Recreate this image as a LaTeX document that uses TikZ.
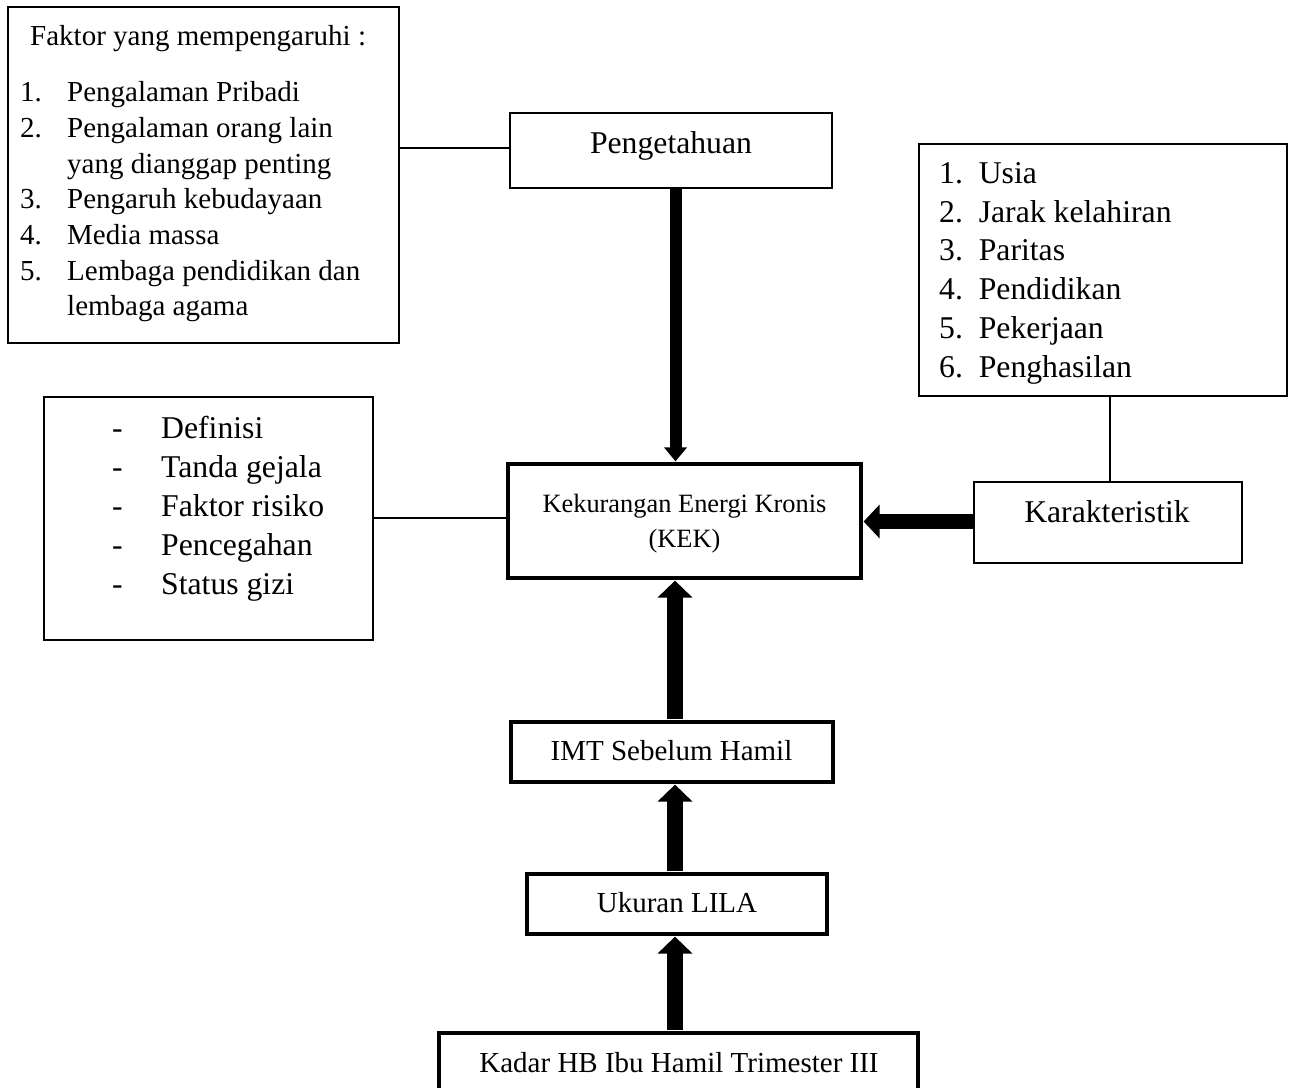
\documentclass[tikz,border=0pt]{standalone}
\usepackage{fontspec}
\setmainfont{Liberation Serif}
\usetikzlibrary{arrows.meta}
\tikzset{
  thinbox/.style={draw=black, line width=1.4pt, rectangle, inner sep=0pt},
  thickbox/.style={draw=black, line width=3.2pt, rectangle, inner sep=0pt},
  txt/.style={inner sep=0pt, anchor=base west},
  ctxt/.style={inner sep=0pt, anchor=base},
  fa/.style={font=\fontsize{29}{35}\selectfont},
  fb/.style={font=\fontsize{31.7}{38}\selectfont},
  fc/.style={font=\fontsize{26.4}{32}\selectfont},
  link/.style={draw=black, line width=1.3pt},
  bigarrow/.style={draw=black, line width=16pt, -{Triangle[width=34pt,length=17pt]}},
  midarrow/.style={draw=black, line width=15pt, -{Triangle[width=33pt,length=16pt]}},
  smallarrow/.style={draw=black, line width=12pt, -{Triangle[width=22pt,length=14pt]}}
}
\begin{document}
\begin{tikzpicture}[x=1pt,y=-1pt]
\clip (0,0) rectangle (1292,1087);
\fill[white] (0,0) rectangle (1292,1087);

% boxes
\node[thinbox, minimum width=391pt, minimum height=336pt] (faktor) at (203.5,175) {};
\node[thinbox, minimum width=322pt, minimum height=75pt] (peng) at (671,150.5) {};
\node[thinbox, minimum width=368pt, minimum height=252pt] (list) at (1103,270) {};
\node[thinbox, minimum width=329pt, minimum height=243pt] (def) at (208.5,518.5) {};
\node[thickbox, minimum width=353pt, minimum height=114pt] (kek) at (684.5,521) {};
\node[thinbox, minimum width=268pt, minimum height=81pt] (kar) at (1108,522.5) {};
\node[thickbox, minimum width=322pt, minimum height=60pt] (imt) at (672,752) {};
\node[thickbox, minimum width=300pt, minimum height=60pt] (lila) at (677,904) {};
\node[thickbox, minimum width=479pt, minimum height=100pt] (kadar) at (678.5,1083) {};

% texts: Faktor box
\node[txt, fa] (f0) at (30,45) {Faktor yang mempengaruhi :};
\node[txt, fa] (f1n) at (20,101) {1.};
\node[txt, fa] (f1) at (67,101) {Pengalaman Pribadi};
\node[txt, fa] (f2n) at (20,137) {2.};
\node[txt, fa] (f2) at (67,137) {Pengalaman orang lain};
\node[txt, fa] (f2b) at (67,173) {yang dianggap penting};
\node[txt, fa] (f3n) at (20,208) {3.};
\node[txt, fa] (f3) at (67,208) {Pengaruh kebudayaan};
\node[txt, fa] (f4n) at (20,244) {4.};
\node[txt, fa] (f4) at (67,244) {Media massa};
\node[txt, fa] (f5n) at (20,280) {5.};
\node[txt, fa] (f5) at (67,280) {Lembaga pendidikan dan};
\node[txt, fa] (f5b) at (67,315) {lembaga agama};

% Pengetahuan
\node[ctxt, fb] (pengt) at (671,153) {Pengetahuan};

% right list
\node[txt, fb] (l1) at (939,183) {1.\ \ Usia};
\node[txt, fb] (l2) at (939,222) {2.\ \ Jarak kelahiran};
\node[txt, fb] (l3) at (939,260.5) {3.\ \ Paritas};
\node[txt, fb] (l4) at (939,299) {4.\ \ Pendidikan};
\node[txt, fb] (l5) at (939,338) {5.\ \ Pekerjaan};
\node[txt, fb] (l6) at (939,377) {6.\ \ Penghasilan};

% Definisi list
\node[txt, fb] (d1n) at (112,438) {-};
\node[txt, fb] (d1) at (161,438) {Definisi};
\node[txt, fb] (d2n) at (112,477) {-};
\node[txt, fb] (d2) at (161,477) {Tanda gejala};
\node[txt, fb] (d3n) at (112,516) {-};
\node[txt, fb] (d3) at (161,516) {Faktor risiko};
\node[txt, fb] (d4n) at (112,555) {-};
\node[txt, fb] (d4) at (161,555) {Pencegahan};
\node[txt, fb] (d5n) at (112,594) {-};
\node[txt, fb] (d5) at (161,594) {Status gizi};

% KEK
\node[ctxt, fc] (kek1) at (684.5,512) {Kekurangan Energi Kronis};
\node[ctxt, fc] (kek2) at (684.5,547) {(KEK)};

% Karakteristik
\node[ctxt, fb] (kart) at (1107,522) {Karakteristik};

% lower texts
\node[ctxt, fa] (imtt) at (671.5,760) {IMT Sebelum Hamil};
\node[ctxt, fa] (lilat) at (677,912) {Ukuran LILA};
\node[ctxt, fa] (kadart) at (679,1072) {Kadar HB Ibu Hamil Trimester III};

% helper coordinates
\coordinate (ax) at (675,0);
\coordinate (ax2) at (675.5,0);
\coordinate (ly1) at (0,148);
\coordinate (ly2) at (0,518);
\coordinate (ly3) at (0,521.5);
\coordinate (lx) at (1110,0);

% connectors
\draw[link] (faktor.east |- ly1) -- (peng.west |- ly1);
\draw[link] (def.east |- ly2) -- (kek.west |- ly2);
\draw[link] (list.south -| lx) -- (kar.north -| lx);

\draw[smallarrow] ([yshift=-0.5pt]peng.south -| ax2) -- ([yshift=1pt]kek.north -| ax2);
\draw[midarrow] (kar.west |- ly3) -- ([xshift=1pt]kek.east |- ly3);
\draw[bigarrow] ([yshift=1pt]imt.north -| ax) -- ([yshift=-1pt]kek.south -| ax);
\draw[bigarrow] ([yshift=1pt]lila.north -| ax) -- ([yshift=-1pt]imt.south -| ax);
\draw[bigarrow] ([yshift=1pt]kadar.north -| ax) -- ([yshift=-1pt]lila.south -| ax);
\end{tikzpicture}
\end{document}
